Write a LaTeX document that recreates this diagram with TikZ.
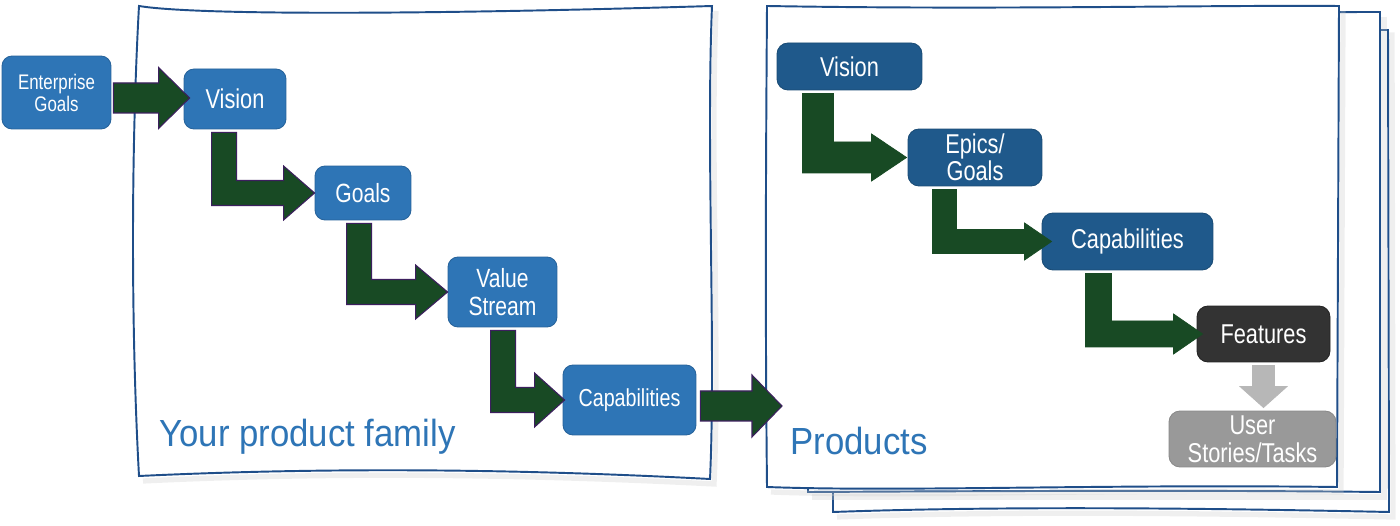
\documentclass[tikz,border=0pt]{standalone}
\usepackage{fontspec}
\setmainfont{Liberation Sans}[FakeStretch=0.8]
\newfontfamily\titlefont{Liberation Sans}[FakeStretch=0.92]
\usetikzlibrary{calc}
\definecolor{lblue}{HTML}{2E75B6}
\definecolor{rblue}{HTML}{1F598B}
\definecolor{agreen}{HTML}{184A24}
\definecolor{apurple}{HTML}{3C1F5E}
\definecolor{fblack}{HTML}{333333}
\definecolor{ugray}{HTML}{999999}
\definecolor{agray}{HTML}{B7B7B7}
\definecolor{framec}{HTML}{1F4E89}
\def\PX{0.02cm}
% elbow arrow: #1 from, #2 to, #3 x offset, #4 tip shift, #5 shaft, #6 head length, #7 head half width, #8 style
\newcommand\elbowarrow[8]{%
  \filldraw[#8] let \p1=($(#1.south west)+(#3,3)$), \p2=($(#2.west)+(#4,0)$) in
    (\x1,\y1) -- (\x1+#5*\PX,\y1) -- (\x1+#5*\PX,\y2+#5*\PX/2)
    -- (\x2-#6*\PX,\y2+#5*\PX/2) -- (\x2-#6*\PX,\y2+#7*\PX) -- (\x2,\y2)
    -- (\x2-#6*\PX,\y2-#7*\PX) -- (\x2-#6*\PX,\y2-#5*\PX/2) -- (\x1,\y2-#5*\PX/2) -- cycle;}
% straight arrow: #1 from node, #2 tip point, #3 start shift, #4 shaft, #5 head length, #6 half width, #7 style
\newcommand\straightarrow[7]{%
  \filldraw[#7] let \p1=($(#1.east)+(#3,0)$), \p2=(#2) in
    (\x1,\y2+#4*\PX/2) -- (\x2-#5*\PX,\y2+#4*\PX/2) -- (\x2-#5*\PX,\y2+#6*\PX) -- (\x2,\y2)
    -- (\x2-#5*\PX,\y2-#6*\PX) -- (\x2-#5*\PX,\y2-#4*\PX/2) -- (\x1,\y2-#4*\PX/2) -- cycle;}
\tikzset{
  frame/.style={draw=framec, line width=1.1pt, fill=white, line join=miter},
  fshadow/.style={draw=black!20, line width=3pt, opacity=0.3},
  lbox/.style={rectangle, rounded corners=0.2cm, fill=lblue, draw=lblue!85!black, line width=0.5pt, text=white, align=center, inner sep=0pt},
  rbox/.style={rectangle, rounded corners=0.22cm, fill=rblue, draw=rblue!85!black, line width=0.5pt, text=white, align=center, inner sep=0pt},
  garrow/.style={fill=agreen, draw=apurple, line width=0.6pt, line join=miter},
  garrowr/.style={fill=agreen, draw=agreen, line width=0.4pt, line join=miter},
  grarrow/.style={fill=agray, draw=agray, line width=0.4pt},
  title/.style={text=lblue, anchor=base west, inner sep=0pt, font=\titlefont\fontsize{21.5}{24}\selectfont}
}
\begin{document}
\begin{tikzpicture}[x=0.02cm,y=-0.02cm]
\useasboundingbox[fill=white] (0,0) rectangle (1400,526);

% ---- right stack of frames ----
\draw[fshadow] (837,36) -- (1392,35) -- (1393,517) .. controls (1200,513) and (1000,511) .. (837,517);
\filldraw[frame] (833,31) .. controls (1000,32) and (1200,30) .. (1388,30) -- (1389,512)
  .. controls (1200,508) and (1000,506) .. (833,512) -- cycle;
\draw[fshadow] (1384,17) -- (1384,497) -- (812,497);
\filldraw[frame] (808,13) -- (1380,12) -- (1380,492) .. controls (1200,490) and (1000,491) .. (808,492) -- cycle;
\draw[fshadow] (1343,11) -- (1341,492) .. controls (1100,489) and (900,497) .. (771,492);
\filldraw[frame] (767,6) .. controls (1000,10) and (1200,5) .. (1339,6) -- (1337,487)
  .. controls (1100,484) and (900,492) .. (767,487) .. controls (765,300) and (766,150) .. (767,6) -- cycle;

% ---- left frame ----
\draw[fshadow] (716,11) .. controls (710,155) and (720,355) .. (714,484) .. controls (520,474) and (330,472) .. (143,481);
\filldraw[frame] (139,6) .. controls (200,16) and (450,14) .. (712,6)
  .. controls (706,150) and (716,350) .. (710,479)
  .. controls (520,469) and (330,467) .. (139,476)
  .. controls (131,330) and (131,150) .. (139,6) -- cycle;

% ---- titles ----
\node[title] (tfam) at (159,447) {Your product family};
\node[title] (tprod) at (790,455) {Products};

% ---- left nodes ----
\node[lbox, minimum width=2.18cm, minimum height=1.46cm, font=\fontsize{12}{12.5}\selectfont] (eg) at (56.5,92.5) {Enterprise\\Goals};
\node[lbox, minimum width=2.04cm, minimum height=1.2cm, font=\fontsize{15.5}{16}\selectfont] (v1) at (235,99) {Vision};
\node[lbox, minimum width=1.92cm, minimum height=1.08cm, font=\fontsize{15}{16}\selectfont] (g1) at (363,193) {Goals};
\node[lbox, minimum width=2.18cm, minimum height=1.4cm, font=\fontsize{15}{16}\selectfont] (vs) at (502.5,292) {Value\\Stream};
\node[lbox, minimum width=2.66cm, minimum height=1.4cm, font=\fontsize{14}{15}\selectfont] (c1) at (629.5,400) {Capabilities};

% ---- right nodes ----
\node[rbox, minimum width=2.9cm, minimum height=0.94cm, font=\fontsize{15.5}{16}\selectfont] (v2) at (849.5,66.5) {Vision};
\node[rbox, minimum width=2.68cm, minimum height=1.14cm, font=\fontsize{15.5}{15.5}\selectfont] (e2) at (975,157.5) {Epics/\\Goals};
\node[rbox, minimum width=3.42cm, minimum height=1.14cm, font=\fontsize{15.5}{16}\selectfont] (c2) at (1127.5,241.5) {Capabilities};
\node[rbox, fill=fblack, draw=fblack!70!black, minimum width=2.66cm, minimum height=1.12cm, font=\fontsize{15.5}{16}\selectfont] (f2) at (1263.5,334) {Features};
\node[rbox, fill=ugray, draw=ugray!90!black, minimum width=3.34cm, minimum height=1.12cm, font=\fontsize{15.5}{16}\selectfont] (u2) at (1252.5,439) {User\\Stories/Tasks};

% ---- arrows ----
\straightarrow{eg}{$(v1.west)+(6,-1)$}{2}{30}{31}{30.5}{garrow}
\elbowarrow{v1}{g1}{28}{0}{25}{31}{27}{garrow}
\elbowarrow{g1}{vs}{32}{0}{25}{32}{27}{garrow}
\elbowarrow{vs}{c1}{43}{2}{25}{30}{27}{garrow}
\coordinate (prodin) at (782,406);
\straightarrow{c1}{prodin}{4}{30}{30}{31}{garrow}

\elbowarrow{v2}{e2}{26}{-1}{31}{35}{23.5}{garrowr}
\elbowarrow{e2}{c2}{25}{10}{24}{27}{18.5}{garrowr}
\elbowarrow{c2}{f2}{44}{6}{26}{29}{20}{garrowr}

\fill[grarrow] let \p1=($(f2.south)+(0,3)$), \p2=($(u2.north)+(0,-3)$) in
  (\x1-11*\PX,\y1) -- (\x1+11*\PX,\y1) -- (\x1+11*\PX,\y2+21*\PX) -- (\x1+23.5*\PX,\y2+21*\PX)
  -- (\x1,\y2) -- (\x1-23.5*\PX,\y2+21*\PX) -- (\x1-11*\PX,\y2+21*\PX) -- cycle;
\end{tikzpicture}
\end{document}
